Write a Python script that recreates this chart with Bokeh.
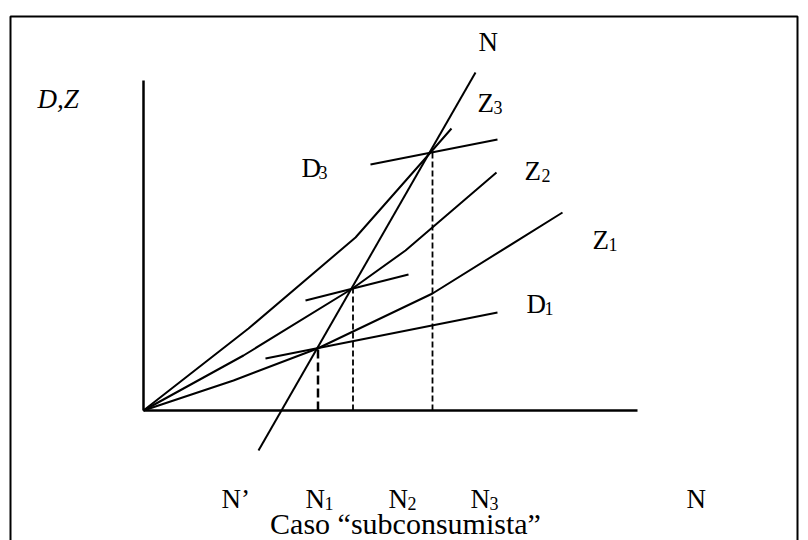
from bokeh.plotting import figure
from bokeh.models import Range1d
from bokeh.core.properties import value
from bokeh.embed import file_html
from bokeh.resources import INLINE

# ---- diagram values (economic units: N along x, D,Z along y; origin at 0,0) ----
axis_x_end = 494          # length of N axis
axis_y_end = 330          # length of D,Z axis

# aggregate supply curves Z1, Z2, Z3 (convex, from origin)
z1_x = [0, 90, 174, 289, 419]
z1_y = [0, 30, 62, 117, 198]
z2_x = [0, 100, 209, 262, 353]
z2_y = [0, 55, 122, 160, 238]
z3_x = [0, 105, 212, 287, 308]
z3_y = [0, 82, 173, 258, 282]

# demand segments D1, D2, D3
d1_x = [122, 354]
d1_y = [52, 98]
d2_x = [162, 265]
d2_y = [110, 136]
d3_x = [227, 354]
d3_y = [246, 271]

# N-N' line
nn_x = [115, 332]
nn_y = [-40, 338]

# equilibria N1, N2, N3
eq_n = [174.5, 209.5, 289]
eq_d = [62, 122, 258]

# frame (box drawn around the figure, open at the bottom)
box_x = [-133, -133, 654, 654]
box_y = [-140, 394, 394, -140]

# labels
main_txt = ["N", "Z", "D", "Z", "Z", "D"]
main_x = [335, 334, 158, 381, 449, 383]
main_y = [369, 308, 243, 240, 171, 107]
sub_txt = ["3", "3", "2", "1", "1"]
sub_x = [350, 175, 398, 465, 401]
sub_y = [303, 238, 235, 166, 102]

bot_txt = ["N\u2019", "N", "N", "N", "N"]
bot_x = [78, 162, 245, 327, 543]
bot_sub_txt = ["1", "2", "3"]
bot_sub_x = [181, 264, 346]
bot_y = -88
bot_sub_y = -93

axis_label = "D,Z"
caption = "Caso \u201csubconsumista\u201d"

FONT = value("Liberation Serif")

p = figure(width=808, height=540, output_backend="svg", toolbar_location=None,
           x_range=Range1d(-143, 665), y_range=Range1d(-130, 410),
           x_axis_type=None, y_axis_type=None, min_border=0,
           outline_line_color=None, background_fill_color="white",
           border_fill_color="white")
p.grid.visible = False

# box
p.line(box_x, box_y, line_color="black", line_width=2)

# axes
p.line([0, 0], [0, axis_y_end], line_color="black", line_width=2.5)
p.line([0, axis_x_end], [0, 0], line_color="black", line_width=2.5)

# curves
for xs, ys in ((z1_x, z1_y), (z2_x, z2_y), (z3_x, z3_y)):
    p.line(xs, ys, line_color="black", line_width=2, line_join="round")
for xs, ys in ((d1_x, d1_y), (d2_x, d2_y), (d3_x, d3_y)):
    p.line(xs, ys, line_color="black", line_width=2)
p.line(nn_x, nn_y, line_color="black", line_width=2)

# dashed drop lines
p.line([eq_n[0], eq_n[0]], [0, eq_d[0]], line_color="black", line_width=2.5, line_dash="9 4")
p.line([eq_n[1], eq_n[1]], [0, eq_d[1]], line_color="black", line_width=1.8, line_dash="6 3")
p.line([eq_n[2], eq_n[2]], [0, eq_d[2]], line_color="black", line_width=1.8, line_dash="6 3")

# labels
common = dict(text_font=FONT, text_color="black", text_align="left", text_baseline="alphabetic")
p.text(x=main_x, y=main_y, text=main_txt, text_font_size="27px", **common)
p.text(x=sub_x, y=sub_y, text=sub_txt, text_font_size="18px", **common)
p.text(x=bot_x, y=[bot_y] * len(bot_x), text=bot_txt, text_font_size="27px", **common)
p.text(x=bot_sub_x, y=[bot_sub_y] * len(bot_sub_x), text=bot_sub_txt, text_font_size="18px", **common)
p.text(x=[-106], y=[312], text=[axis_label], text_font_size="27px", text_font_style="italic", **common)
p.text(x=[262], y=[-113], text=[caption], text_font_size="30px", text_font=FONT,
       text_color="black", text_align="center", text_baseline="alphabetic")

open("out.html", "w").write(file_html(p, INLINE))
